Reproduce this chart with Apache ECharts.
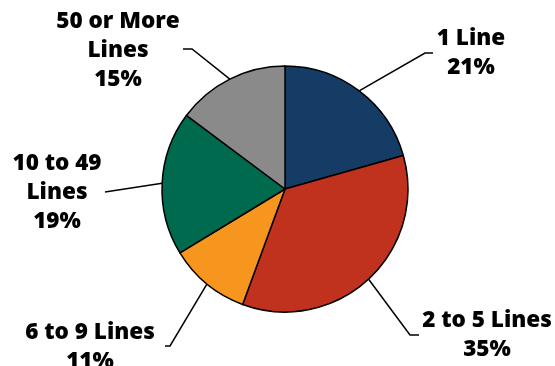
<!DOCTYPE html>
<html>
<head>
<meta charset="utf-8">
<script src="https://cdn.jsdelivr.net/npm/echarts@6/dist/echarts.min.js"></script>
<style>html,body{margin:0;padding:0;background:#fff}#c{width:555px;height:366px}</style>
</head>
<body>
<div id="c"></div>
<script>
// Data (clockwise from 12 o'clock)
const categories = ['1 Line', '2 to 5 Lines', '6 to 9 Lines', '10 to 49\nLines', '50 or More\nLines'];
const shares = [20.6, 35.0, 10.7, 18.9, 14.8];
const percentLabels = ['21%', '35%', '11%', '19%', '15%'];
const colors = ['#143c64', '#c0321e', '#f7961f', '#006a4e', '#8a8a8a'];

// label placement (layout only)
const labelPlaces = [
  {x: 471, y: 53, bend: [425, 53], end: [433, 53]},
  {x: 487, y: 335, bend: [410, 335], end: [419, 335]},
  {x: 90, y: 347, bend: [170, 346], end: [165, 346]},
  {x: 57, y: 193, bend: [105, 192], end: [105, 192]},
  {x: 118, y: 51, bend: [192, 49], end: [183, 49]}
];

const chart = echarts.init(document.getElementById('c'), null, {renderer: 'canvas'});
chart.setOption({
  animation: false,
  backgroundColor: '#ffffff',
  series: [{
    type: 'pie',
    center: [285, 189],
    radius: 123,
    startAngle: 90,
    clockwise: true,
    itemStyle: {borderColor: '#000', borderWidth: 1.5},
    label: {
      show: true,
      position: 'outside',
      formatter: p => p.name + '\n' + percentLabels[p.dataIndex],
      fontFamily: 'Open Sans',
      fontWeight: 800,
      fontSize: 22.5,
      lineHeight: 29,
      align: 'center',
      color: '#000'
    },
    labelLine: {show: true, lineStyle: {color: '#000', width: 1.5}},
    labelLayout: function (params) {
      const lp = labelPlaces[params.dataIndex];
      const start = params.labelLinePoints ? params.labelLinePoints[0] : lp.bend;
      return {
        x: lp.x,
        y: lp.y,
        align: 'center',
        verticalAlign: 'middle',
        labelLinePoints: [start, lp.bend, lp.end]
      };
    },
    data: categories.map((c, i) => ({
      name: c,
      value: shares[i],
      itemStyle: {color: colors[i]}
    }))
  }]
});
</script>
</body>
</html>
